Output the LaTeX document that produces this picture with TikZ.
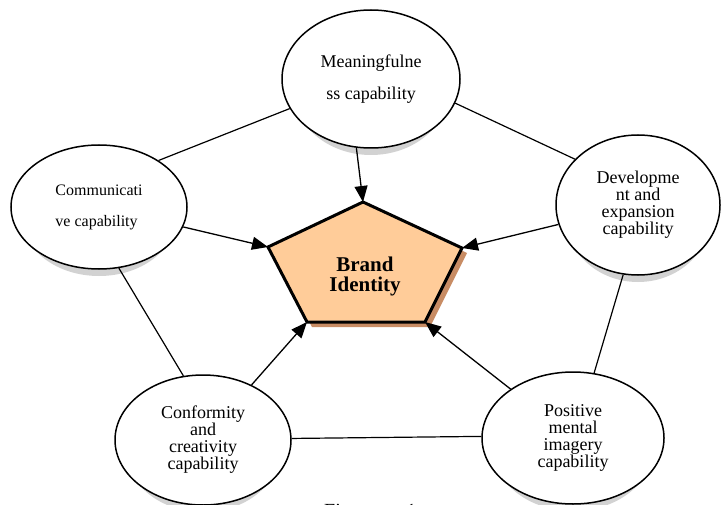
\documentclass[tikz,border=0pt]{standalone}
\usepackage{fontspec}
\setmainfont{Liberation Serif}
\usetikzlibrary{shapes.geometric,arrows.meta,backgrounds}

\definecolor{brandfill}{RGB}{255,204,153}
\definecolor{brandshade}{RGB}{200,140,100}

\tikzset{
  capab/.style={draw, ellipse, line width=1.5pt, fill=white, inner sep=0pt,
    align=center, font=\fontsize{18}{17}\selectfont},
  link/.style={line width=1.2pt},
  feed/.style={line width=1.3pt, -{Triangle[length=16pt,width=13pt]}},
  ellshade/.style={fill=gray!35},
}

\begin{document}
\begin{tikzpicture}[x=1pt,y=1pt]
    \useasboundingbox (0,0) rectangle (722,504);

    % The five capabilities
    \node[capab, minimum width=178pt, minimum height=138pt,
          font=\fontsize{18}{32}\selectfont] (mean) at (371,425) {Meaningfulne\\ss capability};
    \node[capab, minimum width=176pt, minimum height=124pt, align=left,
          font=\fontsize{16}{31}\selectfont] (comm) at (99,297) {Communicati\\ve capability};
    \node[capab, minimum width=164pt, minimum height=140pt] (dev) at (638,299) {Developme\\nt and\\expansion\\capability};
    \node[capab, minimum width=176pt, minimum height=130pt] (conf) at (203,64) {Conformity\\and\\creativity\\capability};
    \node[capab, minimum width=182pt, minimum height=132pt] (pos) at (573,66) {Positive\\mental\\imagery\\capability};

    % Shadows under the ellipses
    \begin{scope}[on background layer]
      \foreach \n/\rx/\ry in {mean/77/64, comm/76/57, dev/72/65, conf/76/60, pos/79/61}
        \fill[ellshade] ([yshift=-12pt]\n.center) ellipse [x radius=\rx pt, y radius=\ry pt];
    \end{scope}

    % Brand identity pentagon
    \coordinate (pt) at (363,302);
    \coordinate (pr) at (462,256);
    \coordinate (pbr) at (425,182);
    \coordinate (pbl) at (307,182);
    \coordinate (pl) at (268,257);
    \fill[brandshade] ([shift={(5,-5)}]pt) -- ([shift={(5,-5)}]pr) -- ([shift={(5,-5)}]pbr)
      -- ([shift={(5,-5)}]pbl) -- ([shift={(5,-5)}]pl) -- cycle;
    \draw[line width=3pt, fill=brandfill] (pt) -- (pr) -- (pbr) -- (pbl) -- (pl) -- cycle;
    \node[font=\bfseries\fontsize{21}{20}\selectfont, align=center] (brand) at (365,228) {Brand\\Identity};

    % Links between the capabilities
    \draw[link] (mean.200) -- (comm.38);
    \draw[link] (mean.344) -- (dev.144);
    \draw[link] (comm.288) -- (conf.107);
    \draw[link] (dev.258) -- (pos.72);
    \draw[link] (conf.1) -- (pos.179);

    % Arrows into the brand
    \draw[feed] (mean.258) -- (pt);
    \draw[feed] (comm) -- (pl);
    \draw[feed] (dev) -- (pr);
    \draw[feed] (conf) -- (pbl);
    \draw[feed] (pos) -- (pbr);

    % Caption, cut by the page
    \node[anchor=base west, inner sep=0pt, font=\fontsize{20}{20}\selectfont] (cap) at (324,-13) {Figure\hspace{30pt}1};
\end{tikzpicture}
\end{document}
